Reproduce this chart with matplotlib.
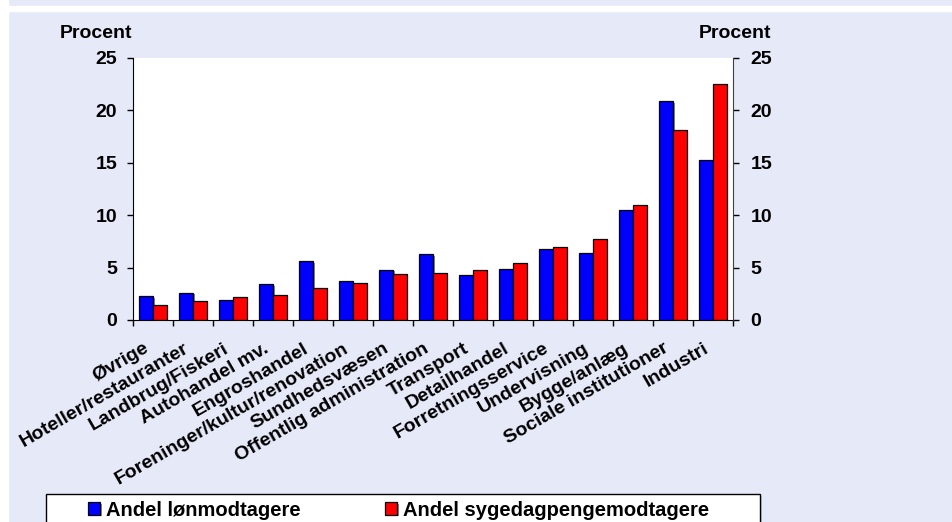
import matplotlib
matplotlib.use('Agg')
import matplotlib.pyplot as plt
import matplotlib.patheffects as pe
from matplotlib.patches import Rectangle
import numpy as np

categories = ["Øvrige", "Hoteller/restauranter", "Landbrug/Fiskeri", "Autohandel mv.",
              "Engroshandel", "Foreninger/kultur/renovation", "Sundhedsvæsen",
              "Offentlig administration", "Transport", "Detailhandel",
              "Forretningsservice", "Undervisning", "Bygge/anlæg",
              "Sociale institutioner", "Industri"]
loenmodtagere = [2.3, 2.6, 1.9, 3.4, 5.6, 3.7, 4.8, 6.3, 4.3, 4.9, 6.8, 6.4, 10.5, 20.9, 15.3]
sygedagpenge = [1.4, 1.8, 2.2, 2.4, 3.1, 3.5, 4.4, 4.5, 4.8, 5.4, 7.0, 7.7, 11.0, 18.1, 22.5]
series_names = ["Andel lønmodtagere", "Andel sygedagpengemodtagere"]
yticks = [0, 5, 10, 15, 20, 25]

plt.rcParams['font.family'] = ['Liberation Sans', 'DejaVu Sans']
plt.rcParams['font.weight'] = 'bold'

bg = '#E6E9F8'
W, H = 952, 522
fig = plt.figure(figsize=(W / 100, H / 100), dpi=100, facecolor=bg)

# white stripes (left edge and band near top)
fig.patches.append(Rectangle((0, 0), 8 / W, 1, transform=fig.transFigure, color='white', zorder=-1))
fig.patches.append(Rectangle((0, 1 - 11 / H), 1, 5 / H, transform=fig.transFigure, color='white', zorder=-1))

ax = fig.add_axes([133 / W, 1 - 320 / H, 600 / W, 262 / H])
ax.set_facecolor('white')

x = np.arange(len(categories))
bw = 0.34
shadow = [pe.withSimplePatchShadow(offset=(1.2, -1.2), shadow_rgbFace='#808080', alpha=0.9)]
b1 = ax.bar(x - bw / 2, loenmodtagere, bw, color='#0000FF', edgecolor='black', linewidth=0.9,
            label=series_names[0], path_effects=shadow)
b2 = ax.bar(x + bw / 2, sygedagpenge, bw, color='#FF0000', edgecolor='black', linewidth=0.9,
            label=series_names[1], path_effects=shadow)

ax.set_xlim(-0.5, len(categories) - 0.5)
ax.set_ylim(0, 25)
ax.set_yticks(yticks)
ax.set_yticklabels([str(t) for t in yticks], fontsize=14, fontweight='bold')
ax.set_xticks(np.arange(len(categories) + 1) - 0.5)
ax.set_xticklabels([])
ax.tick_params(axis='x', length=4.5, width=1, direction='out')
ax.tick_params(axis='y', length=4.5, width=1, direction='out', pad=7)
ax.spines['top'].set_visible(False)
ax.spines['right'].set_visible(False)

for i, c in enumerate(categories):
    ax.text(i - 0.24, -1.9, c, rotation=30, ha='right', va='top', rotation_mode='anchor',
            fontsize=14, fontweight='bold')

ax2 = ax.twinx()
ax2.set_ylim(0, 25)
ax2.set_yticks(yticks)
ax2.set_yticklabels([str(t) for t in yticks], fontsize=14, fontweight='bold')
ax2.tick_params(axis='y', length=4.5, width=1, direction='out', pad=8)
for s in ['top', 'left', 'bottom']:
    ax2.spines[s].set_visible(False)
ax2.spines['right'].set_color('#404040')

fig.text(96 / W, 1 - 34 / H, "Procent", ha='center', va='center', fontsize=14, fontweight='bold')
fig.text(735 / W, 1 - 34 / H, "Procent", ha='center', va='center', fontsize=14, fontweight='bold')

# legend box runs past the bottom edge
fig.patches.append(Rectangle((46 / W, -0.05), 714 / W, 0.05 + 28 / H, transform=fig.transFigure,
                             facecolor='white', edgecolor='black', linewidth=1,
                             path_effects=[pe.withSimplePatchShadow(offset=(1.5, -1.5), shadow_rgbFace='#808080')]))
leg = fig.legend(handles=[b1, b2], loc='center left', ncol=2,
                 bbox_to_anchor=(88 / W, 1 - 510 / H),
                 frameon=False, prop={'weight': 'bold', 'size': 14.5},
                 handlelength=0.6, handleheight=0.6, handletextpad=0.3,
                 columnspacing=4.2, borderaxespad=0, borderpad=0)

fig.savefig("out.png", dpi=100, facecolor=bg)
